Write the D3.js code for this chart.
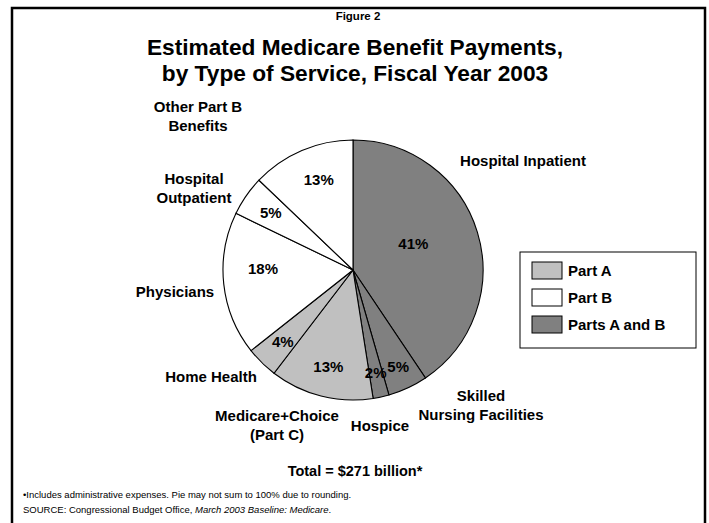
<!DOCTYPE html>
<html>
<head>
<meta charset="utf-8">
<script src="https://cdn.jsdelivr.net/npm/d3@7"></script>
<style>
  html, body { margin: 0; padding: 0; background: #fff; }
  svg { display: block; font-family: "Liberation Sans", Arial, sans-serif; }
</style>
</head>
<body>
<svg id="chart" width="709" height="523"></svg>
<script>
// Medicare benefit payments by type of service, FY2003 (percent of total)
const categories = ["Hospital Inpatient", "Skilled Nursing Facilities", "Hospice",
  "Medicare+Choice (Part C)", "Home Health", "Physicians",
  "Hospital Outpatient", "Other Part B Benefits"];
const shares = [41, 5, 2, 13, 4, 18, 5, 13];
const parts = ["AB", "AB", "AB", "A", "A", "B", "B", "B"];

const legendKeys = ["A", "B", "AB"];
const legendLabels = ["Part A", "Part B", "Parts A and B"];

// category label lines as drawn beside the pie
const categoryLines = [["Hospital Inpatient"], ["Skilled", "Nursing Facilities"], ["Hospice"],
  ["Medicare+Choice", "(Part C)"], ["Home Health"], ["Physicians"],
  ["Hospital", "Outpatient"], ["Other Part B", "Benefits"]];

const svg = d3.select("#chart");

// outer frame
svg.append("rect").attr("x", 12).attr("y", 8).attr("width", 693).attr("height", 530)
  .attr("fill", "none").attr("stroke", "#000").attr("stroke-width", 2.5);

// headings
svg.append("text").attr("x", 358).attr("y", 20).attr("text-anchor", "middle")
  .attr("font-size", 11.5).attr("font-weight", "bold").text("Figure 2");
svg.append("text").attr("x", 355).attr("y", 55).attr("text-anchor", "middle")
  .attr("font-size", 22.7).attr("font-weight", "bold").text("Estimated Medicare Benefit Payments,");
svg.append("text").attr("x", 355).attr("y", 81).attr("text-anchor", "middle")
  .attr("font-size", 22.7).attr("font-weight", "bold").text("by Type of Service, Fiscal Year 2003");

const color = d3.scaleOrdinal().domain(legendKeys).range(["#c0c0c0", "#ffffff", "#808080"]);

const cx = 353, cy = 270, R = 130;
const g = svg.append("g").attr("transform", `translate(${cx},${cy})`);

const pie = d3.pie().sort(null).value(d => d.v);
const data = categories.map((c, i) => ({ c, v: shares[i], p: parts[i], lines: categoryLines[i] }));
const arcs = pie(data);
const arc = d3.arc().innerRadius(0).outerRadius(R);

g.selectAll("path.slice").data(arcs).join("path")
  .attr("class", "slice")
  .attr("d", arc)
  .attr("fill", d => color(d.data.p))
  .attr("stroke", "#000").attr("stroke-width", 1.1);

// percent labels: radius from centre for each slice
const pctRadius = [66, 107, 105, 100, 100, 90, 100, 97];
const pctShift = [-7, 0, 0, 0, 0, 7, 0, 2.5];  // angular nudge in degrees
g.selectAll("text.pct").data(arcs).join("text")
  .attr("class", "pct")
  .attr("transform", (d, i) => {
    const a = (d.startAngle + d.endAngle) / 2 + pctShift[i] * Math.PI / 180;
    const r = pctRadius[i];
    return `translate(${r * Math.sin(a)},${-r * Math.cos(a)})`;
  })
  .attr("text-anchor", "middle").attr("dy", "0.36em")
  .attr("font-size", 15).attr("font-weight", "bold")
  .text(d => d.data.v + "%");

// category labels placed relative to the pie centre
const catPos = [[170, -104], [128, 131], [27, 161], [-76, 151], [-142, 112], [-178, 27], [-159, -86], [-155, -158]];
const catGroups = g.selectAll("text.cat").data(arcs).join("text")
  .attr("class", "cat")
  .attr("text-anchor", "middle")
  .attr("font-size", 15).attr("font-weight", "bold");
catGroups.each(function (d, i) {
  const t = d3.select(this);
  const [x, y] = catPos[i];
  d.data.lines.forEach((ln, k) => {
    t.append("tspan").attr("x", x).attr("y", y + k * 19).text(ln);
  });
});

// legend
const lg = svg.append("g").attr("transform", "translate(520,252)");
lg.append("rect").attr("width", 176).attr("height", 96).attr("fill", "#fff")
  .attr("stroke", "#000").attr("stroke-width", 1);
legendKeys.forEach((k, i) => {
  lg.append("rect").attr("x", 12).attr("y", 10 + i * 27).attr("width", 30).attr("height", 17)
    .attr("fill", color(k)).attr("stroke", "#000").attr("stroke-width", 1);
  lg.append("text").attr("x", 48).attr("y", 24 + i * 27)
    .attr("font-size", 15).attr("font-weight", "bold").text(legendLabels[i]);
});

// total and notes
svg.append("text").attr("x", 355).attr("y", 476).attr("text-anchor", "middle")
  .attr("font-size", 14.5).attr("font-weight", "bold").text("Total = $271 billion*");
svg.append("text").attr("x", 23).attr("y", 498).attr("font-size", 9.5)
  .text("\u2022Includes administrative expenses. Pie may not sum to 100% due to rounding.");
const src = svg.append("text").attr("x", 23).attr("y", 513).attr("font-size", 9.5);
src.append("tspan").text("SOURCE: Congressional Budget Office, ");
src.append("tspan").attr("font-style", "italic").text("March 2003 Baseline: Medicare");
src.append("tspan").text(".");
</script>
</body>
</html>
